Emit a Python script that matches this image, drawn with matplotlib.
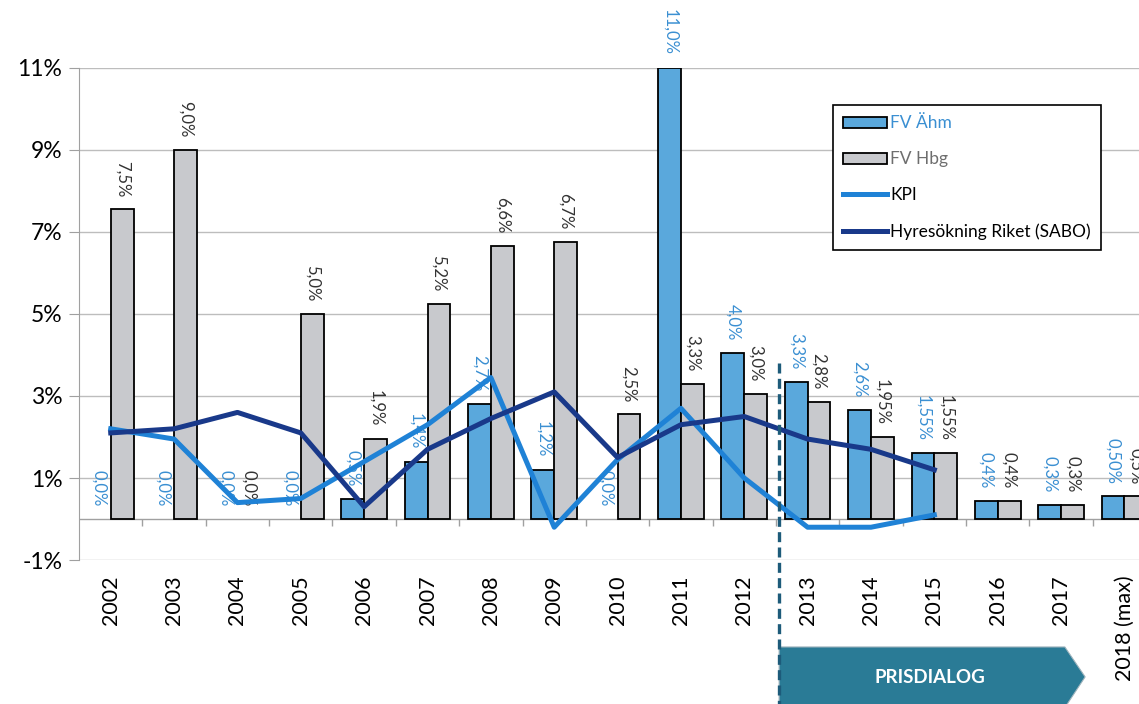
import matplotlib
matplotlib.use("Agg")
import matplotlib.pyplot as plt
from matplotlib.patches import Patch, Polygon
from matplotlib.lines import Line2D
import numpy as np

plt.rcParams['font.family'] = ['Lato', 'DejaVu Sans']

# data
years = ["2002", "2003", "2004", "2005", "2006", "2007", "2008", "2009", "2010",
         "2011", "2012", "2013", "2014", "2015", "2016", "2017", "2018 (max)"]
fv_ahm = [0.0, 0.0, 0.0, 0.0, 0.5, 1.4, 2.8, 1.2, 0.0, 11.0, 4.05, 3.35, 2.65, 1.6, 0.45, 0.35, 0.55]
fv_hbg = [7.55, 9.0, 0.0, 5.0, 1.95, 5.25, 6.65, 6.75, 2.55, 3.3, 3.05, 2.85, 2.0, 1.6, 0.45, 0.35, 0.55]
ahm_labels = ["0,0%", "0,0%", "0,0%", "0,0%", "0,5%", "1,4%", "2,7%", "1,2%", "0,0%",
              "11,0%", "4,0%", "3,3%", "2,6%", "1,55%", "0,4%", "0,3%", "0,50%"]
hbg_labels = ["7,5%", "9,0%", "0,0%", "5,0%", "1,9%", "5,2%", "6,6%", "6,7%", "2,5%",
              "3,3%", "3,0%", "2,8%", "1,95%", "1,55%", "0,4%", "0,3%", "0,5%"]
kpi = [2.2, 1.95, 0.4, 0.5, 1.4, 2.3, 3.45, -0.2, 1.45, 2.7, 1.0, -0.2, -0.2, 0.1]
hyres = [2.1, 2.2, 2.6, 2.1, 0.3, 1.7, 2.45, 3.1, 1.5, 2.3, 2.5, 1.95, 1.7, 1.2]
yticks = [-1, 1, 3, 5, 7, 9, 11]

blue = "#5aa8dc"
grey = "#c8c9cd"
kpi_col = "#1f82d6"
hyres_col = "#19398a"
lbl_blue = "#3a8fd2"
teal = "#2a7b96"

x = np.arange(len(years))
w = 0.36

fig = plt.figure(figsize=(11.39, 7.04), dpi=100)
ax = fig.add_axes([0.0694, 0.2045, 0.9456, 0.699])
ax.set_xlim(-0.5, 16.5)
ax.set_ylim(-1, 11)

# axes styling
ax.set_yticks(yticks)
ax.set_yticklabels([f"{t}%" for t in yticks], fontsize=16.5)
ax.yaxis.grid(True, color="#bdbdbd", lw=1)
ax.set_axisbelow(True)
for s in ["top", "right", "bottom"]:
    ax.spines[s].set_visible(False)
ax.spines["left"].set_color("#a0a0a0")
ax.tick_params(axis="y", length=7, color="#a0a0a0", pad=5)
ax.set_xticks(x)
ax.set_xticklabels(years, rotation=90, fontsize=15.5)
ax.tick_params(axis="x", length=0, pad=11)
ax.axhline(0, color="#a0a0a0", lw=1, zorder=1)
ax.vlines(np.arange(0.5, 16.5, 1), -0.17, 0, color="#a0a0a0", lw=1)

# bars (zero values get no outline, as in the original)
ahm_lw = [1.3 if v else 0 for v in fv_ahm]
hbg_lw = [1.3 if v else 0 for v in fv_hbg]
ax.bar(x - w / 2, fv_ahm, w, color=blue, edgecolor="black", lw=ahm_lw, zorder=2)
ax.bar(x + w / 2, fv_hbg, w, color=grey, edgecolor="black", lw=hbg_lw, zorder=2)

for i in range(len(years)):
    ax.annotate(ahm_labels[i], (x[i] - w / 2, fv_ahm[i]), xytext=(0, 9),
                textcoords="offset points", rotation=270, ha="center", va="bottom",
                fontsize=12, color=lbl_blue, zorder=3, annotation_clip=False)
    ax.annotate(hbg_labels[i], (x[i] + w / 2, fv_hbg[i]), xytext=(0, 9),
                textcoords="offset points", rotation=270, ha="center", va="bottom",
                fontsize=12, color="#333333", zorder=3, annotation_clip=False)

# lines
ax.plot(x[:len(kpi)], kpi, color=kpi_col, lw=3.6, zorder=4)
ax.plot(x[:len(hyres)], hyres, color=hyres_col, lw=3.6, zorder=4)

# prisdialog marker
split_x = 10.55
ax.plot([split_x, split_x], [3.8, -4.7], ls=(0, (3, 1.6)), color="#1d5b7a", lw=2.4,
        clip_on=False, zorder=5)
arrow = Polygon([(split_x, -3.12), (15.06, -3.12), (15.38, -3.85), (15.06, -4.6), (split_x, -4.6)],
                closed=True, facecolor=teal, edgecolor="#9fb4bd", lw=0.8, clip_on=False, zorder=4)
ax.add_patch(arrow)
ax.text(12.93, -3.87, "PRISDIALOG", color="white", fontsize=13.5, fontweight="bold",
        ha="center", va="center", clip_on=False, zorder=6)

# legend
handles = [Patch(facecolor=blue, edgecolor="black", lw=1.3),
           Patch(facecolor=grey, edgecolor="black", lw=1.3),
           Line2D([], [], color=kpi_col, lw=3.6),
           Line2D([], [], color=hyres_col, lw=3.6)]
names = ["FV Ähm", "FV Hbg", "KPI", "Hyresökning Riket (SABO)"]
leg = ax.legend(handles, names, loc="upper left", bbox_to_anchor=(0.7, 0.925),
                fontsize=12.5, fancybox=False, edgecolor="black", framealpha=1,
                handlelength=2.5, handleheight=0.6, handletextpad=0.2, labelspacing=1.15,
                borderpad=0.6, borderaxespad=0)
leg.get_frame().set_linewidth(1.2)
txt_cols = [lbl_blue, "#6e6e6e", "black", "black"]
for t, c in zip(leg.get_texts(), txt_cols):
    t.set_color(c)

fig.savefig("out.png", dpi=100)
